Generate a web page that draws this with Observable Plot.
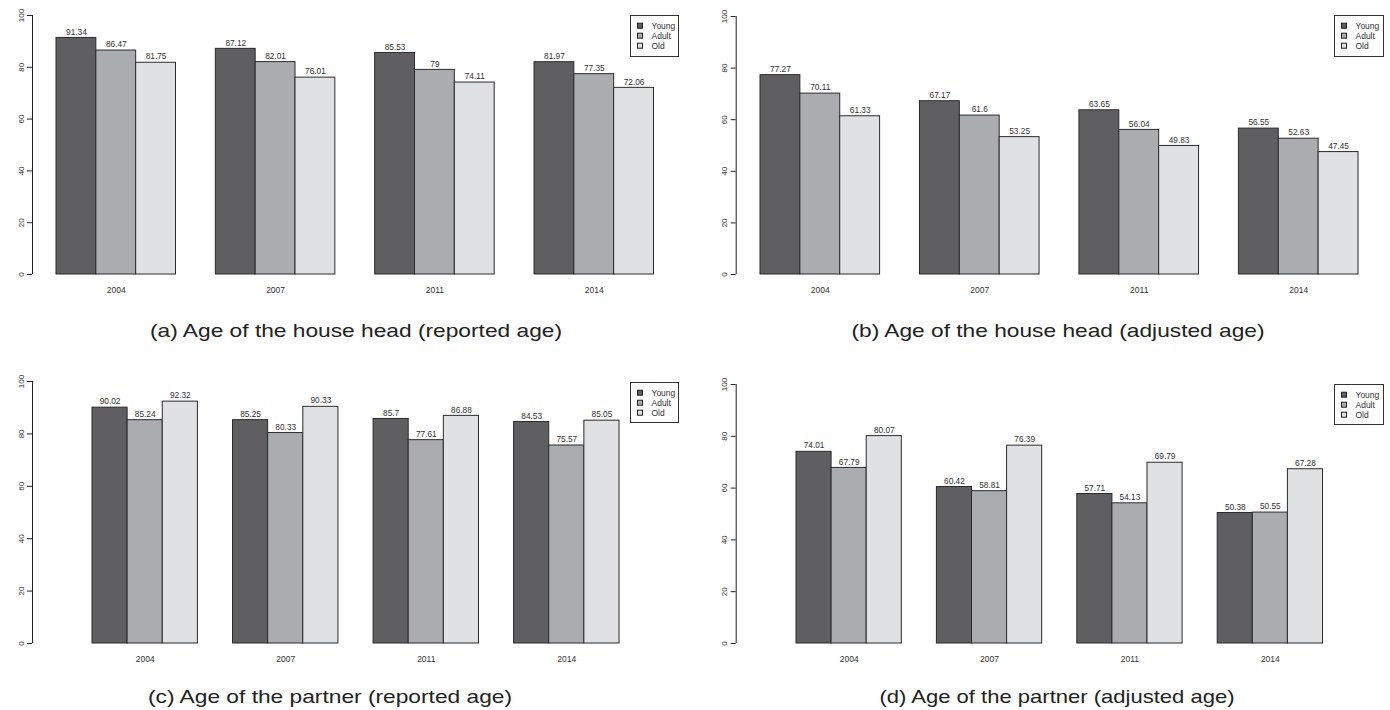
<!DOCTYPE html>
<html><head><meta charset="utf-8">
<script src="https://cdn.jsdelivr.net/npm/d3@7"></script>
<script src="https://cdn.jsdelivr.net/npm/@observablehq/plot@0.6"></script>
<style>
body{margin:0;background:#fff;}
#root{position:relative;width:1390px;height:710px;font-family:"Liberation Sans",Arial,sans-serif;overflow:hidden;}
.panel{position:absolute;}
#overlay{position:absolute;left:0;top:0;}
</style></head><body><div id="root"></div>
<script>
// ---- data ----
const years = ["2004", "2007", "2011", "2014"];
const series = ["Young", "Adult", "Old"];
const colors = ["#5f5f61", "#abacaf", "#e0e1e3"];

const aYoung = [91.34, 87.12, 85.53, 81.97];
const aAdult = [86.47, 82.01, 79, 77.35];
const aOld   = [81.75, 76.01, 74.11, 72.06];

const bYoung = [77.27, 67.17, 63.65, 56.55];
const bAdult = [70.11, 61.6, 56.04, 52.63];
const bOld   = [61.33, 53.25, 49.83, 47.45];

const cYoung = [90.02, 85.25, 85.7, 84.53];
const cAdult = [85.24, 80.33, 77.61, 75.57];
const cOld   = [92.32, 90.33, 86.88, 85.05];

const dYoung = [74.01, 60.42, 57.71, 50.38];
const dAdult = [67.79, 58.81, 54.13, 50.55];
const dOld   = [80.07, 76.39, 69.79, 67.28];

const yTicks = [0, 20, 40, 60, 80, 100];
const captions = [
  "(a) Age of the house head (reported age)",
  "(b) Age of the house head (adjusted age)",
  "(c) Age of the partner (reported age)",
  "(d) Age of the partner (adjusted age)"
];

// ---- layout (pixels) ----
const panels = [
  {values: [aYoung, aAdult, aOld], left: 0,   top: 0,   width: 695, height: 305, axisX: 32,   firstBar: 56, lastBar: 653.5, yTop: 15, yBottom: 274,
   legend: {x: 630, y: 15, w: 48, h: 41}, cap: {cx: 356, y: 337, len: 412}},
  {values: [bYoung, bAdult, bOld], left: 700, top: 0,   width: 690, height: 305, axisX: 35.7, firstBar: 60, lastBar: 658,   yTop: 16, yBottom: 274,
   legend: {x: 1334, y: 15, w: 49, h: 41}, cap: {cx: 1058, y: 337, len: 413}},
  {values: [cYoung, cAdult, cOld], left: 0,   top: 360, width: 695, height: 310, axisX: 32,   firstBar: 92, lastBar: 619,   yTop: 21, yBottom: 283,
   legend: {x: 630, y: 382, w: 48, h: 40}, cap: {cx: 330, y: 703, len: 364}},
  {values: [dYoung, dAdult, dOld], left: 700, top: 360, width: 690, height: 310, axisX: 35.7, firstBar: 96, lastBar: 622.5, yTop: 24, yBottom: 283,
   legend: {x: 1334, y: 384, w: 49, h: 40}, cap: {cx: 1057, y: 703, len: 355}}
];

const root = document.getElementById("root");
const per = series.length + 1;            // bars per group + 1 gap
const nSlots = years.length * per;

panels.forEach(p => {
  const rows = [];
  p.values.forEach((vals, i) => vals.forEach((v, g) => rows.push({year: years[g], series: series[i], g, i, value: v})));
  const unit = (p.lastBar - p.firstBar) / (nSlots - 1);
  const xmin = 1 - (p.firstBar - p.axisX) / unit;
  const slot = d => 1 + d.g * per + d.i;
  const centers = years.map((_, g) => 1 + g * per + series.length / 2);
  const chart = Plot.plot({
    width: p.width,
    height: p.height,
    marginLeft: p.axisX,
    marginRight: p.width - p.lastBar,
    marginTop: p.yTop,
    marginBottom: p.height - p.yBottom,
    x: {domain: [xmin, nSlots], axis: null},
    y: {domain: [0, 100], axis: null},
    color: {domain: series, range: colors},
    style: {fontFamily: '"Liberation Sans", Arial, sans-serif', background: "transparent", overflow: "visible"},
    marks: [
      Plot.rectY(rows, {x1: d => slot(d), x2: d => slot(d) + 1, y: "value", fill: "series", stroke: "#2b2b2b", strokeWidth: 1}),
      Plot.text(rows, {x: d => slot(d) + 0.5, y: "value", text: d => String(d.value), dy: -6, fontSize: 8.3, fill: "#333"}),
      Plot.ruleX([xmin], {y1: 0, y2: 100, stroke: "#222"}),
      Plot.axisY({ticks: yTicks, label: null, tickSize: 5, tickPadding: 4, tickRotate: -90, fontSize: 8, stroke: "#222", fill: "#333", tickFormat: d => String(d)}),
      Plot.axisX({ticks: centers, label: null, tickSize: 0, tickPadding: 12, fontSize: 8.5, fill: "#333", tickFormat: d => years[centers.indexOf(d)]})
    ]
  });
  chart.classList.add("panel");
  chart.style.left = p.left + "px";
  chart.style.top = p.top + "px";
  root.appendChild(chart);
});

// ---- legends and captions overlay ----
const svgNS = "http://www.w3.org/2000/svg";
const ov = document.createElementNS(svgNS, "svg");
ov.setAttribute("id", "overlay");
ov.setAttribute("width", 1390);
ov.setAttribute("height", 710);
root.appendChild(ov);
function el(tag, attrs, text) {
  const e = document.createElementNS(svgNS, tag);
  for (const k in attrs) e.setAttribute(k, attrs[k]);
  if (text != null) e.textContent = text;
  ov.appendChild(e);
  return e;
}
panels.forEach((p, k) => {
  const L = p.legend;
  el("rect", {x: L.x + 0.5, y: L.y + 0.5, width: L.w, height: L.h, fill: "#fff", stroke: "#333", "stroke-width": 1});
  series.forEach((s, i) => {
    const cy = L.y + 10.7 + i * 10;
    el("rect", {x: L.x + 7.5, y: cy - 2.5, width: 5, height: 5, fill: colors[i], stroke: "#222", "stroke-width": 1});
    el("text", {x: L.x + 21.5, y: cy + 3, "font-size": 8.5, fill: "#333", "font-family": '"Liberation Sans", Arial, sans-serif'}, s);
  });
  el("text", {x: p.cap.cx, y: p.cap.y, "text-anchor": "middle", "font-size": 19, fill: "#222",
    "font-family": '"Liberation Sans", Arial, sans-serif', textLength: p.cap.len, lengthAdjust: "spacingAndGlyphs"}, captions[k]);
});
</script>
</body></html>
